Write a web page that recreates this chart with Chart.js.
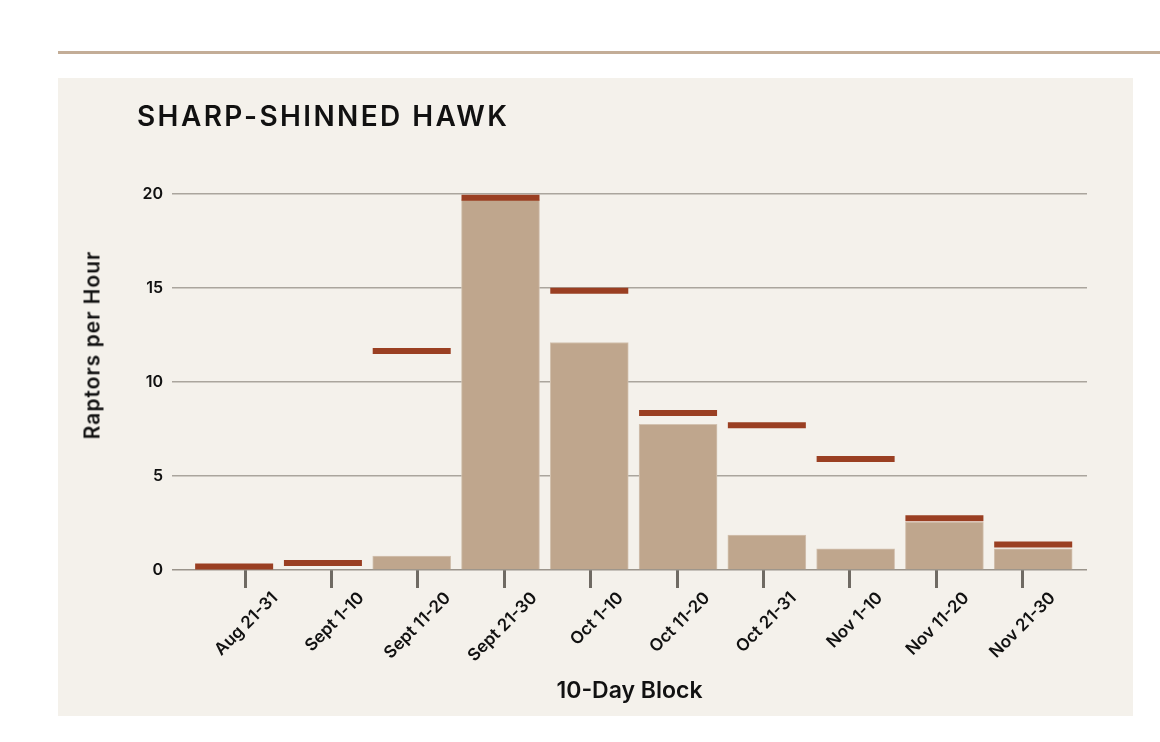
<!DOCTYPE html>
<html>
<head>
<meta charset="utf-8">
<script src="https://cdn.jsdelivr.net/npm/chart.js@4"></script>
<style>
  body { margin: 0; background: #fff; width: 1160px; height: 742px; overflow: hidden; position: relative; font-family: Inter, sans-serif; }
  #rule { position: absolute; left: 58px; top: 51px; right: 0; height: 3px; background: #c3ad97; }
  #panel { position: absolute; left: 58px; top: 78px; width: 1075px; height: 638px; background: #f4f1eb; }
  #title { position: absolute; left: 79px; top: 21px; font-size: 28px; font-weight: 600; color: #111; letter-spacing: 2.4px; }
  #ytitle { position: absolute; left: 34px; top: 267px; transform: translate(-50%, -50%) rotate(-90deg); white-space: nowrap;
            font-size: 21px; font-weight: 600; color: #111; letter-spacing: 1px; }
  canvas { position: absolute; left: 0; top: 0; }
</style>
</head>
<body>
<div id="rule"></div>
<div id="panel">
  <canvas id="hawkChart" width="1075" height="638"></canvas>
  <div id="title">SHARP-SHINNED HAWK</div>
  <div id="ytitle">Raptors per Hour</div>
</div>
<script>
// 10-day blocks
const blocks = ["Aug 21-31", "Sept 1-10", "Sept 11-20", "Sept 21-30", "Oct 1-10",
                "Oct 11-20", "Oct 21-31", "Nov 1-10", "Nov 11-20", "Nov 21-30"];
// tan bars
const barValues = [0, 0, 0.74, 19.7, 12.1, 7.75, 1.86, 1.12, 2.55, 1.12];
// red markers
const markValues = [0.18, 0.37, 11.65, 19.8, 14.85, 8.35, 7.7, 5.9, 2.75, 1.35];
const yTicks = [0, 5, 10, 15, 20];

const tan = "#bfa68d";
const rust = "#9a3f22";
const font = "Inter";

const ctx = document.getElementById("hawkChart");
const chart = new Chart(ctx, {
  data: {
    datasets: [
      {
        type: "line",
        label: "marker",
        data: markValues.map((v, i) => ({ x: i, y: v })),
        showLine: false,
        pointStyle: "line",
        pointRadius: 39,
        pointHoverRadius: 39,
        pointBorderWidth: 6,
        pointBorderColor: rust,
        xAxisID: "x",
        clip: false,
        order: 0,
      },
      {
        type: "bar",
        label: "bars",
        data: barValues.map((v, i) => ({ x: i, y: v })),
        backgroundColor: tan,
        borderColor: "#d3c2b0",
        borderWidth: 1,
        barThickness: 78,
        xAxisID: "x",
        order: 1,
      },
    ],
  },
  options: {
    responsive: false,
    devicePixelRatio: 1,
    animation: false,
    layout: { padding: { top: 116, right: 46, left: 0, bottom: 0 } },
    plugins: { legend: { display: false }, tooltip: { enabled: false } },
    scales: {
      x: {
        type: "linear",
        display: false,
        offset: false,
        min: -0.7,
        max: 9.606,
      },
      x2: {
        type: "linear",
        position: "bottom",
        offset: false,
        min: -0.845,
        max: 9.745,
        afterBuildTicks: (axis) => { axis.ticks = blocks.map((_, i) => ({ value: i })); },
        afterFit: (axis) => { axis.height = 146; },
        grid: {
          drawOnChartArea: false,
          drawTicks: true,
          tickLength: 18,
          tickWidth: 3,
          tickColor: "#6f6a63",
        },
        border: { display: false },
        ticks: {
          autoSkip: false,
          minRotation: 45,
          maxRotation: 45,
          labelOffset: 30,
          padding: 0,
          color: "#111",
          font: { family: font, size: 17, weight: "600" },
          callback: (v) => blocks[v],
        },
        title: {
          display: true,
          text: "10-Day Block",
          color: "#111",
          font: { family: font, size: 23, weight: "600" },
          padding: { top: 11, bottom: 11 },
        },
      },
      y: {
        min: 0,
        max: 20,
        afterBuildTicks: (axis) => { axis.ticks = yTicks.map((v) => ({ value: v })); },
        afterFit: (axis) => { axis.width = 114; },
        grid: {
          drawTicks: false,
          color: (c) => (c.tick && c.tick.value === 0 ? "#9a948b" : "#aaa59d"),
          lineWidth: 1.5,
        },
        border: { display: false },
        ticks: {
          padding: 9,
          color: "#111",
          font: { family: font, size: 16, weight: "600" },
        },
      },
    },
  },
});
</script>
</body>
</html>
